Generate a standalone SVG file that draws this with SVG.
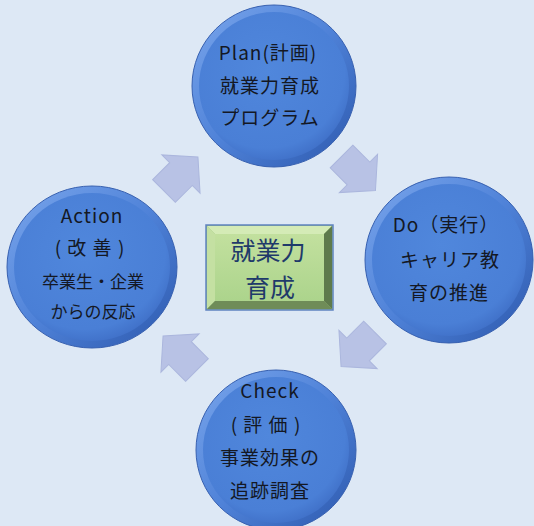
<svg xmlns="http://www.w3.org/2000/svg" width="534" height="526" viewBox="0 0 534 526">
  <defs>
    <linearGradient id="rim" x1="0" y1="0" x2="1" y2="1">
      <stop offset="0" stop-color="#7aa6ec"/>
      <stop offset="0.5" stop-color="#4f82d8"/>
      <stop offset="1" stop-color="#2c58ad"/>
    </linearGradient>
    <radialGradient id="face" cx="0.45" cy="0.4" r="0.65">
      <stop offset="0" stop-color="#5087dc"/>
      <stop offset="0.8" stop-color="#4a7fd6"/>
      <stop offset="1" stop-color="#3d6cc4"/>
    </radialGradient>
    <linearGradient id="gface" x1="0" y1="0" x2="0" y2="1">
      <stop offset="0" stop-color="#c2e09e"/>
      <stop offset="1" stop-color="#acd48c"/>
    </linearGradient>
    <path id="arr" d="M0,-16 L24,-16 L24,-27 L48,0 L24,27 L24,16 L0,16 Z"/>
  </defs>
  <style>
    .rim { fill: url(#rim); stroke: #3760b0; stroke-width: 1; }
    .face { fill: url(#face); }
    .t { font-family: "Noto Sans CJK JP", "Noto Sans", sans-serif; fill: #141824; text-anchor: middle; }
    .t20 { font-size: 19px; letter-spacing: 1px; }
    .t17 { font-size: 17px; }
    .ct { font-family: "Noto Sans CJK JP", "Noto Sans", sans-serif; font-size: 25px; fill: #1f3a6a; text-anchor: middle; }
    .arrow { fill: #b8c2e5; stroke: #abb6dd; stroke-width: 1; }
  </style>
  <rect width="534" height="526" fill="#dde8f5"/>

  <g id="connectors">
    <use href="#arr" class="arrow" transform="translate(164,191) rotate(-45)"/>
    <use href="#arr" class="arrow" transform="translate(341.5,156.5) rotate(45)"/>
    <use href="#arr" class="arrow" transform="translate(375,332.5) rotate(135)"/>
    <use href="#arr" class="arrow" transform="translate(197,370) rotate(225)"/>
  </g>

  <g id="plan">
    <ellipse class="rim" cx="274" cy="86" rx="82" ry="81"/>
    <ellipse class="face" cx="274" cy="86" rx="75" ry="74"/>
    <text class="t t20" x="268" y="60">Plan(計画)</text>
    <text class="t t20" x="270" y="93">就業力育成</text>
    <text class="t t20" x="270" y="125">プログラム</text>
  </g>

  <g id="do">
    <ellipse class="rim" cx="449" cy="260" rx="84" ry="83"/>
    <ellipse class="face" cx="449" cy="260" rx="77" ry="76"/>
    <text class="t t20" x="446" y="232">Do（実行）</text>
    <text class="t t20" x="450" y="267">キャリア教</text>
    <text class="t t20" x="449" y="300">育の推進</text>
  </g>

  <g id="action">
    <ellipse class="rim" cx="92" cy="267" rx="85" ry="81"/>
    <ellipse class="face" cx="92" cy="267" rx="78" ry="74"/>
    <text class="t t20" x="92" y="223">Action</text>
    <text class="t t20" x="90" y="255" letter-spacing="3">( 改 善 )</text>
    <text class="t t17" x="93" y="288">卒業生・企業</text>
    <text class="t t17" x="93" y="318">からの反応</text>
  </g>

  <g id="check">
    <ellipse class="rim" cx="276" cy="450" rx="80" ry="80"/>
    <ellipse class="face" cx="276" cy="450" rx="73" ry="73"/>
    <text class="t t20" x="270" y="398">Check</text>
    <text class="t t20" x="266" y="432" letter-spacing="3">( 評 価 )</text>
    <text class="t t20" x="270" y="465">事業効果の</text>
    <text class="t t20" x="270" y="498">追跡調査</text>
  </g>

  <g id="center">
    <rect x="206" y="225" width="127" height="85" fill="#98c07a" stroke="#5f82c0" stroke-width="1.5"/>
    <polygon points="207,226 332,226 324,234 215,234" fill="#d4ebb6"/>
    <polygon points="207,226 215,234 215,301 207,309" fill="#c4e0a2"/>
    <polygon points="332,226 332,309 324,301 324,234" fill="#5e7a4c"/>
    <polygon points="207,309 332,309 324,301 215,301" fill="#6f8c58"/>
    <rect x="215" y="234" width="109" height="67" fill="url(#gface)"/>
    <text class="ct" x="268" y="260">就業力</text>
    <text class="ct" x="270" y="297">育成</text>
  </g>
</svg>
